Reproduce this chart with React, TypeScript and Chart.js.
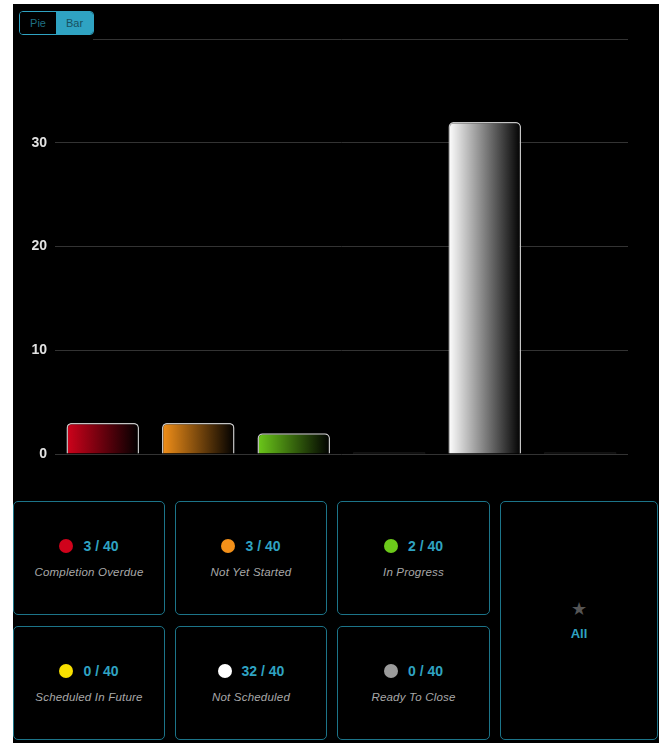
import React, { useEffect, useRef } from "react";
import { Chart, registerables } from "chart.js";

Chart.register(...registerables);

const categories = [
  "Completion Overdue",
  "Not Yet Started",
  "In Progress",
  "Scheduled In Future",
  "Not Scheduled",
  "Ready To Close",
];
const counts = [3, 3, 2, 0, 32, 0];
const total = 40;
const colors = ["#d0021b", "#f39019", "#6cc91a", "#f8e000", "#ffffff", "#9b9b9b"];
const yTicks = [0, 10, 20, 30];
const yMax = 40;
const cardOrder = [0, 1, 2, 3, 4, 5];

const TEAL = "#2fa3c2";
const BORDER = "#1c7489";
const FONT = "'Liberation Sans', Arial, Helvetica, sans-serif";

const BAR_PCT = 0.76;

function BarChart() {
  const ref = useRef<HTMLCanvasElement | null>(null);
  useEffect(() => {
    if (!ref.current) return;
    const chart = new Chart(ref.current, {
      type: "bar",
      data: {
        labels: categories,
        datasets: [
          {
            data: counts,
            backgroundColor: (ctx: any) => {
              const c = ctx.chart;
              const x = c.scales?.x;
              const i = ctx.dataIndex;
              if (i === undefined) return colors[0];
              if (counts[i] === 0) return "#3a3a3a";
              if (!x) return colors[i];
              const center = x.getPixelForValue(i);
              const half = ((x.width / categories.length) * BAR_PCT) / 2;
              if (!isFinite(center) || !isFinite(half) || half <= 0) return colors[i];
              const g = c.ctx.createLinearGradient(center - half, 0, center + half, 0);
              g.addColorStop(0, colors[i]);
              g.addColorStop(1, "#000000");
              return g;
            },
            borderColor: (ctx: any) => (counts[ctx.dataIndex] === 0 ? "#444444" : "#c4c4c4"),
            borderWidth: 1.5,
            borderRadius: { topLeft: 5, topRight: 5, bottomLeft: 0, bottomRight: 0 },
            borderSkipped: "bottom",
            minBarLength: 1.5,
            barPercentage: BAR_PCT,
            categoryPercentage: 1,
          },
        ],
      },
      options: {
        animation: false,
        responsive: true,
        maintainAspectRatio: false,
        layout: { padding: { top: 35, right: 31, bottom: 12, left: 0 } },
        plugins: { legend: { display: false }, tooltip: { enabled: false } },
        scales: {
          x: {
            ticks: { display: false },
            grid: { display: false },
            border: { display: false },
          },
          y: {
            min: 0,
            max: yMax,
            afterFit: (s: any) => {
              s.width = 42;
            },
            ticks: {
              stepSize: 10,
              padding: 8,
              color: "#e2e2e2",
              font: { family: FONT, size: 14, weight: "bold" },
              callback: (v: any) => (yTicks.includes(Number(v)) ? String(v) : ""),
            },
            grid: { color: "#333333", lineWidth: 1, drawTicks: false },
            border: { display: false },
          },
        },
      },
    });
    chart.update();
    return () => chart.destroy();
  }, []);
  return <canvas ref={ref} />;
}

function Card({ idx }: { idx: number }) {
  return (
    <div
      style={{
        border: `1px solid ${BORDER}`,
        borderRadius: 5,
        display: "flex",
        flexDirection: "column",
        alignItems: "center",
        justifyContent: "center",
        boxSizing: "border-box",
      }}
    >
      <div style={{ display: "flex", alignItems: "center", gap: 10 }}>
        <span
          style={{
            width: 14,
            height: 14,
            borderRadius: "50%",
            background: colors[idx],
            display: "inline-block",
          }}
        />
        <span style={{ color: TEAL, fontWeight: "bold", fontSize: 14 }}>
          {counts[idx]} / {total}
        </span>
      </div>
      <div
        style={{
          color: "#a8a8a8",
          fontStyle: "italic",
          fontSize: 11.5,
          marginTop: 12,
          letterSpacing: 0.2,
        }}
      >
        {categories[idx]}
      </div>
    </div>
  );
}

export default function App() {
  useEffect(() => {
    document.body.style.margin = "0";
    document.body.style.background = "#ffffff";
  }, []);
  return (
    <div
      style={{
        position: "absolute",
        left: 13,
        top: 4,
        width: 646,
        height: 741,
        background: "#000",
        fontFamily: FONT,
      }}
    >
      <div style={{ position: "absolute", left: 0, top: 0, width: 646, height: 470 }}>
        <BarChart />
      </div>
      <div
        style={{
          position: "absolute",
          left: 0,
          top: 0,
          width: 80,
          height: 38,
          background: "#000",
        }}
      />
      <div
        style={{
          position: "absolute",
          left: 6,
          top: 7,
          height: 24,
          display: "flex",
          border: `1px solid ${TEAL}`,
          borderRadius: 4,
          overflow: "hidden",
          fontSize: 11,
          boxSizing: "border-box",
        }}
      >
        <div
          style={{
            width: 36,
            display: "flex",
            alignItems: "center",
            justifyContent: "center",
            color: "#1f6f82",
            background: "#000",
          }}
        >
          Pie
        </div>
        <div
          style={{
            width: 37,
            display: "flex",
            alignItems: "center",
            justifyContent: "center",
            color: "#17505e",
            background: TEAL,
          }}
        >
          Bar
        </div>
      </div>
      <div
        style={{
          position: "absolute",
          left: 0,
          top: 497,
          width: 646,
          height: 240,
          display: "grid",
          gridTemplateColumns: "152px 152px 153px 158px",
          gridTemplateRows: "114px 114px",
          columnGap: 10,
          rowGap: 11,
        }}
      >
        {cardOrder.slice(0, 3).map((i) => (
          <Card key={i} idx={i} />
        ))}
        <div
          style={{
            gridColumn: 4,
            gridRow: "1 / span 2",
            border: `1px solid ${BORDER}`,
            borderRadius: 5,
            display: "flex",
            flexDirection: "column",
            alignItems: "center",
            justifyContent: "center",
          }}
        >
          <div style={{ color: "#555", fontSize: 18, lineHeight: "18px" }}>★</div>
          <div style={{ color: TEAL, fontWeight: "bold", fontSize: 13, marginTop: 8 }}>All</div>
        </div>
        {cardOrder.slice(3).map((i) => (
          <Card key={i} idx={i} />
        ))}
      </div>
    </div>
  );
}
